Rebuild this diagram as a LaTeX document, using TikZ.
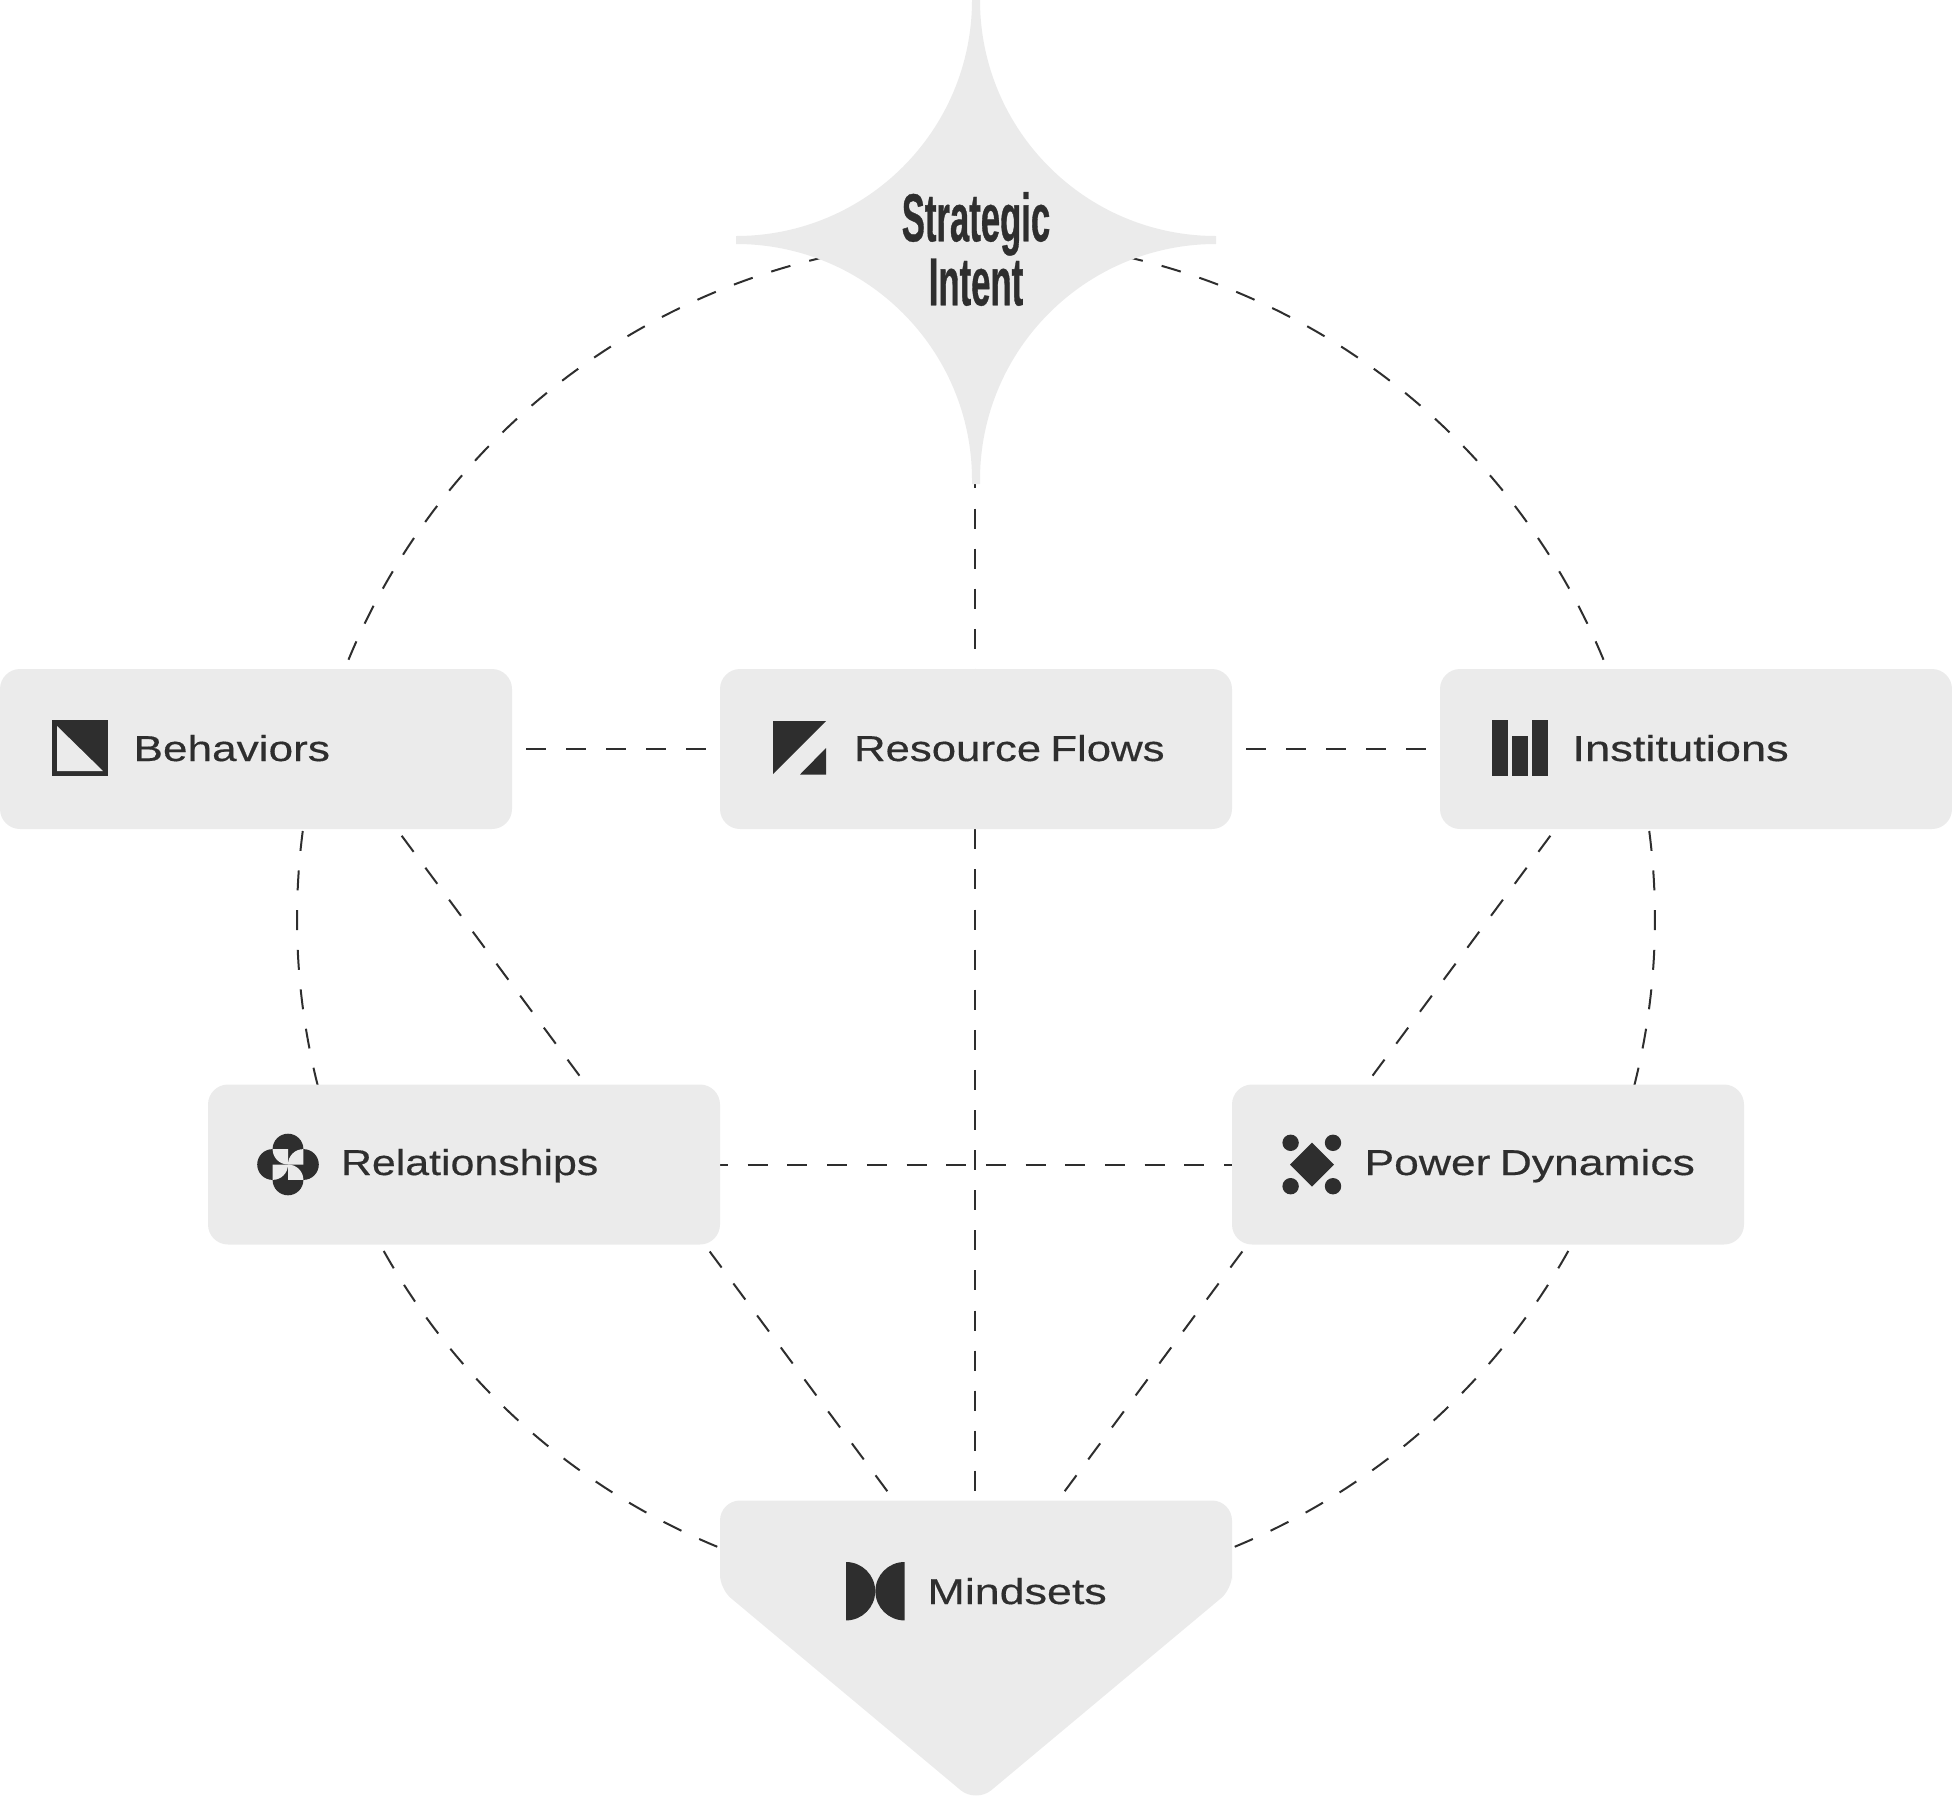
\documentclass[tikz,border=0pt]{standalone}
\usepackage{fontspec}
\usetikzlibrary{backgrounds,calc}
\newfontfamily\labelfont[FakeStretch=1.22,FakeBold=0.4]{Liberation Sans}
\newfontfamily\titlefont[FakeStretch=0.51,FakeBold=0.5]{Liberation Sans Bold}
\definecolor{panel}{HTML}{EBEBEB}
\definecolor{ink}{HTML}{2E2E2E}
\tikzset{
  cardbox/.style={fill=panel,rounded corners=20pt,minimum width=512pt,minimum height=160pt,inner sep=0pt,outer sep=0pt},
  ghostbox/.style={minimum width=512pt,minimum height=160pt,inner sep=0pt,outer sep=0pt},
  lbl/.style={anchor=base west,inner sep=0pt,outer sep=0pt,text=ink,transform shape,font=\labelfont\fontsize{36}{40}\selectfont},
  ttl/.style={align=center,inner sep=0pt,outer sep=0pt,text=ink,font=\titlefont\fontsize{68}{64}\selectfont},
  link/.style={draw=ink,line width=2pt,line cap=butt},
  glyph/.style={fill=ink},
  cutout/.style={fill=panel}
}
\begin{document}
\begin{tikzpicture}[x=1pt,y=-1pt]
\useasboundingbox (0,0) rectangle (1952,1802);
% star
\fill[panel] (736,236) arc[start angle=-90,end angle=0,radius=236pt] -- (980,0)
  arc[start angle=180,end angle=270,radius=236pt] -- (1216,244)
  arc[start angle=90,end angle=180,radius=236pt] -- (980,484) -- (972,484) -- (972,480)
  arc[start angle=0,end angle=90,radius=236pt] -- cycle;
\node[ttl] (star) at (976,249) {Strategic\\Intent};
\coordinate (starc) at (976,240);
% cards
\node[cardbox] (behaviors) at (256,749) {};
\node[cardbox] (resource) at (976,749) {};
\node[cardbox] (institutions) at (1696,749) {};
\node[cardbox] (relationships) at (464,1164.5) {};
\node[cardbox] (power) at (1488,1164.5) {};
% mindsets shape
\fill[panel] (720,1540.5) [rounded corners=20pt] -- (720,1500.5) -- (1232,1500.5) -- (1232,1560)
  [rounded corners=14pt] -- (1232,1589) [rounded corners=20pt] -- (976,1803)
  [rounded corners=14pt] -- (720,1589) [sharp corners] -- cycle;
\node[ghostbox] (mindsets) at (976,1580.5) {};
% labels
\node[lbl,xscale=1.006] (tBehaviors) at (133.5,761) {Behaviors};
\node[lbl,xscale=0.996] (tResource) at (854,761) {Resource\hspace{-3pt} Flows};
\node[lbl,xscale=1.03] (tInstitutions) at (1572.5,761) {Institutions};
\node[lbl,xscale=0.976] (tRelationships) at (341,1175) {Relationships};
\node[lbl,xscale=1.012] (tPower) at (1364.5,1175) {Power\hspace{-3pt} Dynamics};
\node[lbl,xscale=1.02] (tMindsets) at (927.5,1604) {Mindsets};
% icon: behaviors
\fill[glyph] (52,720) rectangle (108,776);
\fill[cutout] (57,726) -- (57,771) -- (103,771) -- cycle;
% icon: resource flows
\fill[glyph] (773,721) -- (826,721) -- (773,774) -- cycle;
\fill[glyph] (826,748) -- (826,774.5) -- (800,774.5) -- cycle;
% icon: institutions
\fill[glyph] (1492,720) rectangle (1508,776);
\fill[glyph] (1512,736) rectangle (1528,776);
\fill[glyph] (1532,720) rectangle (1548,776);
% icon: relationships
\begin{scope}[yshift=-0.5pt]
\fill[glyph] (288,1148.6) circle[radius=15.4pt] (303.4,1164) circle[radius=15.4pt]
  (288,1179.4) circle[radius=15.4pt] (272.6,1164) circle[radius=15.4pt];
\fill[glyph] (272.6,1148.6) rectangle (303.4,1179.4);
\fill[cutout] (288,1148.6) -- (272.6,1148.6) arc[start angle=180,end angle=270,radius=15.4pt] -- cycle;
\fill[cutout] (303.4,1164) -- (303.4,1148.6) arc[start angle=90,end angle=180,radius=15.4pt] -- cycle;
\fill[cutout] (288,1179.4) -- (303.4,1179.4) arc[start angle=0,end angle=90,radius=15.4pt] -- cycle;
\fill[cutout] (272.6,1164) -- (272.6,1179.4) arc[start angle=270,end angle=360,radius=15.4pt] -- cycle;
\end{scope}
% icon: power dynamics
\begin{scope}[yshift=-0.5pt]
\fill[glyph] (1312,1142) -- (1334,1164) -- (1312,1186) -- (1290,1164) -- cycle;
\fill[glyph] (1290.6,1142.3) circle[radius=8.2pt] (1333,1142.3) circle[radius=8.2pt]
  (1290.6,1185.7) circle[radius=8.2pt] (1333,1185.7) circle[radius=8.2pt];
\end{scope}
% icon: mindsets
\fill[glyph] (846,1562) arc[start angle=90,end angle=-90,radius=29.2pt] -- cycle;
\fill[glyph] (904.6,1562) arc[start angle=90,end angle=270,radius=29.2pt] -- cycle;
% free ends of the connectors
\coordinate (ring) at (976,919);
\coordinate (bTail) at (330.6,739.8);
\coordinate (bHead) at (887.3,1491.2);
\coordinate (iTail) at (1621.4,739.8);
\coordinate (iHead) at (1064.7,1491.2);
\begin{pgfonlayer}{background}
  \draw[link,dash pattern=on 20pt off 20pt,dash phase=10pt] (behaviors.center) -- (institutions.center);
  \draw[link,dash pattern=on 20pt off 19.7pt,dash phase=33.9pt] (relationships.center) -- (power.center);
  \draw[link,dash pattern=on 20pt off 20.1pt,dash phase=12.2pt] ([xshift=-1pt]starc) -- ([xshift=-1pt,yshift=9pt]mindsets.north);
  \draw[link,dash pattern=on 20pt off 19.8pt] (bTail) -- (bHead);
  \draw[link,dash pattern=on 20pt off 19.8pt] (iTail) -- (iHead);
  \draw[link,dash pattern=on 20pt off 19.5pt] (ring) ++(157.55:679pt) arc[start angle=157.55,end angle=100,radius=679pt];
  \draw[link,dash pattern=on 20pt off 19.5pt] (ring) ++(22.45:679pt) arc[start angle=22.45,end angle=80,radius=679pt];
  \draw[link,dash pattern=on 20pt off 19.7pt] (ring) ++(172.55:679pt) arc[start angle=172.55,end angle=195,radius=679pt];
  \draw[link,dash pattern=on 20pt off 19.7pt] (ring) ++(7.45:679pt) arc[start angle=7.45,end angle=-15,radius=679pt];
  \draw[link,dash pattern=on 20pt off 19.5pt] (ring) ++(209.27:679pt) arc[start angle=209.27,end angle=247.6,radius=679pt];
  \draw[link,dash pattern=on 20pt off 19.5pt] (ring) ++(330.73:679pt) arc[start angle=330.73,end angle=292.4,radius=679pt];
\end{pgfonlayer}
\end{tikzpicture}
\end{document}
